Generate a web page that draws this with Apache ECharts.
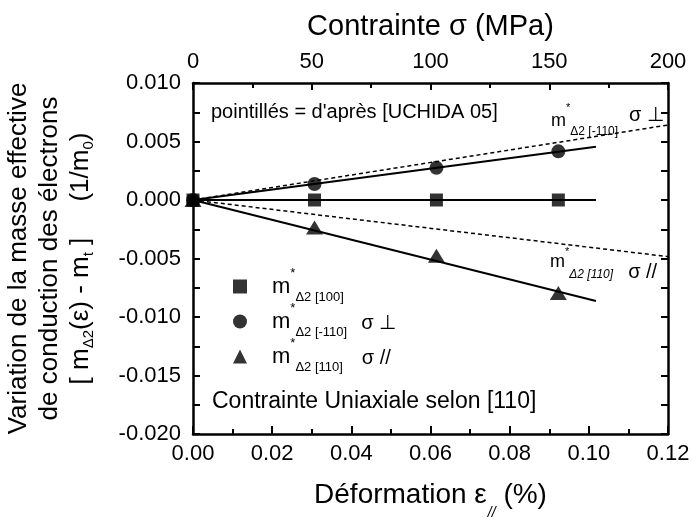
<!DOCTYPE html>
<html><head><meta charset="utf-8">
<script src="https://cdn.jsdelivr.net/npm/echarts@6/dist/echarts.min.js"></script>
<style>html,body{margin:0;padding:0;background:#fff}#c{width:692px;height:521px}</style>
</head><body><div id="c"></div>
<script>
// ---- data ----
const strain = [0, 0.0307, 0.0615, 0.0923];          // Déformation ε// (%)
const m100  = [0, 0, 0, 0];                           // m*Δ2[100]
const mPerp = [0, 0.00137, 0.00275, 0.00416];         // m*Δ2[-110] σ⊥
const mPar  = [0, -0.00235, -0.00476, -0.00795];      // m*Δ2[110] σ//
const fitX    = [0, 0.1018];
const fit100  = [0, 0];
const fitPerp = [0, 0.00455];
const fitPar  = [0, -0.00863];
const uchidaX    = [0, 0.12];
const uchidaPerp = [0, 0.00641];
const uchidaPar  = [0, -0.00484];
// tick labels
const strainTicks = [0, 0.02, 0.04, 0.06, 0.08, 0.10, 0.12];
const stressTicks = [0, 50, 100, 150, 200];
const massTicks = [-0.020, -0.015, -0.010, -0.005, 0.000, 0.005, 0.010];

const FONT = 'Liberation Sans, Arial, sans-serif';
const zip = (a, b) => a.map((v, i) => [v, b[i]]);
const fmt = (v, d) => (Math.abs(v) < 1e-12 ? 0 : v).toFixed(d);
const step = (t) => Math.round((t[1] - t[0]) * 1e6) / 1e6;

const chart = echarts.init(document.getElementById('c'), null, {renderer: 'canvas'});
const black = '#000';
const mkLine = () => ({show: true, onZero: false, lineStyle: {color: black, width: 2.5}});
const mkTick = (len) => ({show: true, inside: true, length: len, lineStyle: {color: black, width: 2}});
const mkMinor = (len) => ({show: true, splitNumber: 2, length: len, lineStyle: {color: black, width: 2}});

const legendText = {
  sq: '{m|m}{sup|*}{sub|Δ2 [100]}',
  ci: '{m|m}{sup|*}{sub|Δ2 [-110]}{sg1|σ ⊥}',
  tr: '{m|m}{sup|*}{sub|Δ2 [110]}{sg2|σ //}'
};

const option = {
  animation: false,
  backgroundColor: '#fff',
  textStyle: {fontFamily: FONT, color: black},
  grid: {left: 193, right: 24, top: 83, bottom: 87, outerBoundsMode: 'none'},
  xAxis: [{
    type: 'value', position: 'bottom',
    min: strainTicks[0], max: strainTicks[strainTicks.length - 1], interval: step(strainTicks),
    axisLine: mkLine(), axisTick: mkTick(8), minorTick: mkMinor(5),
    splitLine: {show: false},
    axisLabel: {fontFamily: FONT, fontSize: 22, color: black, margin: 9, formatter: v => fmt(v, 2)},
    name: '{t|Déformation ε}{s|//}{t| (%)}', nameLocation: 'middle', nameGap: 42,
    nameTextStyle: {fontFamily: FONT, color: black, fontSize: 28,
      rich: {t: {fontFamily: FONT, fontSize: 28, color: black, lineHeight: 32},
             s: {fontFamily: FONT, fontSize: 14, fontStyle: 'italic', color: black, lineHeight: 10, padding: [36, 0, 0, 1]}}}
  }, {
    type: 'value', position: 'top',
    min: stressTicks[0], max: stressTicks[stressTicks.length - 1], interval: step(stressTicks),
    axisLine: mkLine(), axisTick: mkTick(7), minorTick: mkMinor(5),
    splitLine: {show: false},
    axisLabel: {fontFamily: FONT, fontSize: 22, color: black, margin: 10, formatter: v => String(v)},
    name: 'Contrainte σ (MPa)', nameLocation: 'middle', nameGap: 42,
    nameTextStyle: {fontFamily: FONT, color: black, fontSize: 29}
  }],
  yAxis: [{
    type: 'value', position: 'left',
    min: massTicks[0], max: massTicks[massTicks.length - 1], interval: step(massTicks),
    axisLine: mkLine(), axisTick: mkTick(7), minorTick: mkMinor(7),
    splitLine: {show: false},
    axisLabel: {fontFamily: FONT, fontSize: 22, color: black, margin: 12, formatter: v => fmt(v, 3)},
    name: '{t|Variation de la masse effective}\n{t|de conduction des électrons}\n{t|[ m}{s|Δ2}{t|(ε) - m}{s|t}{t| ]     (1/m}{s|0}{t|)}',
    nameLocation: 'middle', nameRotate: 90, nameGap: 97,
    nameTextStyle: {fontFamily: FONT, color: black, fontSize: 26, lineHeight: 31, align: 'center',
      rich: {t: {fontFamily: FONT, fontSize: 26, color: black, lineHeight: 31},
             s: {fontFamily: FONT, fontSize: 15, color: black, lineHeight: 10, padding: [16, 0, 0, 0]}}}
  }, {
    type: 'value', position: 'right',
    min: massTicks[0], max: massTicks[massTicks.length - 1], interval: step(massTicks) / 2,
    axisLine: mkLine(), axisTick: mkTick(7),
    splitLine: {show: false},
    axisLabel: {show: false}
  }],
  legend: {
    orient: 'vertical', left: 233, top: 267, padding: 0, itemGap: -4,
    itemWidth: 14, itemHeight: 14, selectedMode: false,
    data: [{name: 'sq', icon: 'rect'}, {name: 'ci', icon: 'circle'}, {name: 'tr', icon: 'triangle'}],
    formatter: n => legendText[n],
    textStyle: {fontFamily: FONT, color: black,
      rich: {
        m: {fontFamily: FONT, fontSize: 22, color: black, lineHeight: 30, padding: [0, 0, 0, 20]},
        sup: {fontFamily: FONT, fontSize: 13, color: black, lineHeight: 10, padding: [0, 0, 26, 0]},
        sub: {fontFamily: FONT, fontSize: 13, color: black, lineHeight: 10, padding: [22, 0, 0, 0]},
        sg1: {fontFamily: FONT, fontSize: 20, color: black, lineHeight: 10, padding: [4, 0, 0, 14]},
        sg2: {fontFamily: FONT, fontSize: 20, color: black, lineHeight: 10, padding: [4, 0, 0, 19]}
      }}
  },
  graphic: [
    {type: 'text', left: 211, top: 102, silent: true,
     style: {text: "pointillés = d'après [UCHIDA 05]", font: '20px ' + FONT, fill: black}},
    {type: 'text', left: 212, top: 390, silent: true,
     style: {text: 'Contrainte Uniaxiale selon [110]', font: '23px ' + FONT, fill: black}},
    {type: 'text', x: 551, y: 121, silent: true,
     style: {text: '{m|m}{sup|*}{sub|Δ2 [-110]}{sg|σ ⊥}', verticalAlign: 'middle', align: 'left',
       rich: {
         m: {fontFamily: FONT, fontSize: 18, fill: black, lineHeight: 22},
         sup: {fontFamily: FONT, fontSize: 11, fill: black, lineHeight: 10, padding: [0, 0, 26, 0]},
         sub: {fontFamily: FONT, fontSize: 12, fill: black, lineHeight: 10, padding: [22, 0, 0, 0]},
         sg: {fontFamily: FONT, fontSize: 20, fill: black, lineHeight: 10, padding: [0, 0, 12, 11]}
       }}},
    {type: 'text', x: 550, y: 262, silent: true,
     style: {text: '{m|m}{sup|*}{sub|Δ2 [110]}{sg|σ //}', verticalAlign: 'middle', align: 'left',
       rich: {
         m: {fontFamily: FONT, fontSize: 18, fill: black, lineHeight: 22},
         sup: {fontFamily: FONT, fontSize: 11, fill: black, lineHeight: 10, padding: [0, 0, 20, 0]},
         sub: {fontFamily: FONT, fontSize: 12, fontStyle: 'italic', fill: black, lineHeight: 10, padding: [26, 0, 0, 0]},
         sg: {fontFamily: FONT, fontSize: 20, fill: black, lineHeight: 10, padding: [20, 0, 0, 15]}
       }}}
  ],
  series: [
    {name: 'uchidaPerp', type: 'line', data: zip(uchidaX, uchidaPerp), symbol: 'none', silent: true,
     lineStyle: {color: black, width: 1.5, type: [4, 3]}},
    {name: 'uchidaPar', type: 'line', data: zip(uchidaX, uchidaPar), symbol: 'none', silent: true,
     lineStyle: {color: black, width: 1.5, type: [4, 3]}},
    {name: 'fit100', type: 'line', data: zip(fitX, fit100), symbol: 'none', silent: true,
     lineStyle: {color: black, width: 2}},
    {name: 'fitPerp', type: 'line', data: zip(fitX, fitPerp), symbol: 'none', silent: true,
     lineStyle: {color: black, width: 2}},
    {name: 'fitPar', type: 'line', data: zip(fitX, fitPar), symbol: 'none', silent: true,
     lineStyle: {color: black, width: 2}},
    {name: 'sq', type: 'scatter', data: zip(strain, m100), symbol: 'rect', symbolSize: 13,
     itemStyle: {color: black}},
    {name: 'ci', type: 'scatter', data: zip(strain, mPerp), symbol: 'circle', symbolSize: 14,
     itemStyle: {color: black}},
    {name: 'tr', type: 'scatter', data: zip(strain, mPar), symbol: 'triangle', symbolSize: [17, 14],
     itemStyle: {color: black}}
  ]
};
chart.setOption(option);
</script>
</body></html>
